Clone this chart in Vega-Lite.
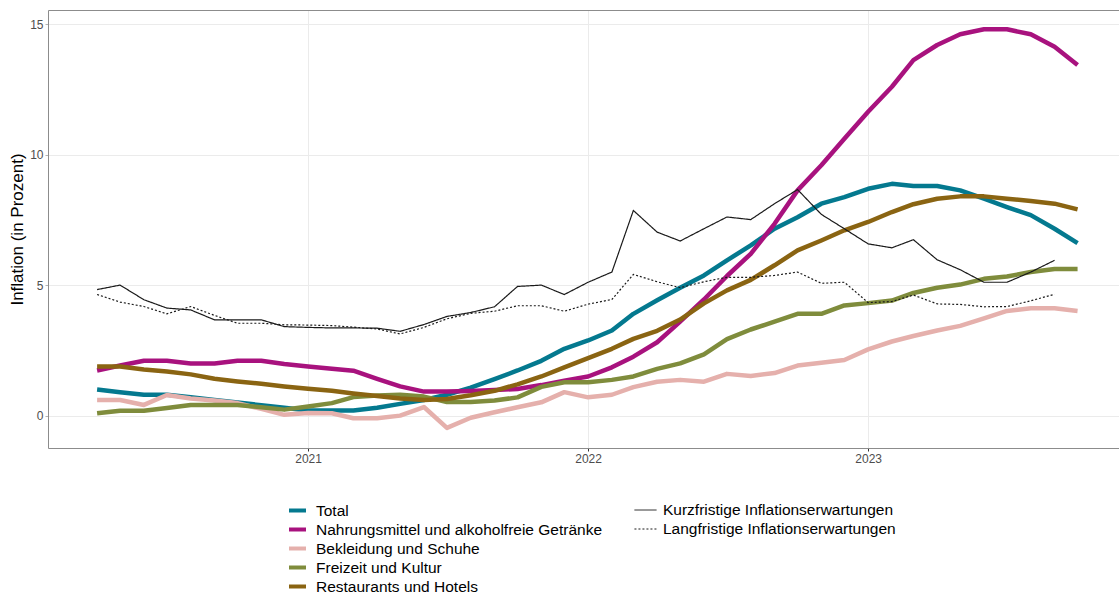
{
"$schema": "https://vega.github.io/schema/vega-lite/v6.json",
"width": 1071,
"height": 438,
"autosize": {"type": "none"},
"padding": {"left": 48, "top": 10, "right": 0, "bottom": 148},
"background": "white",
"config": {"font": "Liberation Sans", "view": {"stroke": null}},
"datasets": {
"cpi": [
{"date":"2020-04-01","series":"Total","value":1.0},{"date":"2020-05-01","series":"Total","value":0.9},{"date":"2020-06-01","series":"Total","value":0.8},{"date":"2020-07-01","series":"Total","value":0.8},{"date":"2020-08-01","series":"Total","value":0.7},{"date":"2020-09-01","series":"Total","value":0.6},{"date":"2020-10-01","series":"Total","value":0.5},{"date":"2020-11-01","series":"Total","value":0.4},{"date":"2020-12-01","series":"Total","value":0.3},{"date":"2021-01-01","series":"Total","value":0.2},{"date":"2021-02-01","series":"Total","value":0.2},{"date":"2021-03-01","series":"Total","value":0.2},{"date":"2021-04-01","series":"Total","value":0.3},{"date":"2021-05-01","series":"Total","value":0.45},{"date":"2021-06-01","series":"Total","value":0.6},{"date":"2021-07-01","series":"Total","value":0.8},{"date":"2021-08-01","series":"Total","value":1.07},{"date":"2021-09-01","series":"Total","value":1.4},{"date":"2021-10-01","series":"Total","value":1.73},{"date":"2021-11-01","series":"Total","value":2.1},{"date":"2021-12-01","series":"Total","value":2.56},{"date":"2022-01-01","series":"Total","value":2.88},{"date":"2022-02-01","series":"Total","value":3.26},{"date":"2022-03-01","series":"Total","value":3.9},{"date":"2022-04-01","series":"Total","value":4.42},{"date":"2022-05-01","series":"Total","value":4.9},{"date":"2022-06-01","series":"Total","value":5.37},{"date":"2022-07-01","series":"Total","value":5.95},{"date":"2022-08-01","series":"Total","value":6.52},{"date":"2022-09-01","series":"Total","value":7.16},{"date":"2022-10-01","series":"Total","value":7.6},{"date":"2022-11-01","series":"Total","value":8.12},{"date":"2022-12-01","series":"Total","value":8.37},{"date":"2023-01-01","series":"Total","value":8.69},{"date":"2023-02-01","series":"Total","value":8.88},{"date":"2023-03-01","series":"Total","value":8.8},{"date":"2023-04-01","series":"Total","value":8.8},{"date":"2023-05-01","series":"Total","value":8.63},{"date":"2023-06-01","series":"Total","value":8.31},{"date":"2023-07-01","series":"Total","value":7.99},{"date":"2023-08-01","series":"Total","value":7.68},{"date":"2023-09-01","series":"Total","value":7.16},{"date":"2023-10-01","series":"Total","value":6.61},
{"date":"2020-04-01","series":"Nahrungsmittel und alkoholfreie Getränke","value":1.73},{"date":"2020-05-01","series":"Nahrungsmittel und alkoholfreie Getränke","value":1.92},{"date":"2020-06-01","series":"Nahrungsmittel und alkoholfreie Getränke","value":2.1},{"date":"2020-07-01","series":"Nahrungsmittel und alkoholfreie Getränke","value":2.1},{"date":"2020-08-01","series":"Nahrungsmittel und alkoholfreie Getränke","value":2.0},{"date":"2020-09-01","series":"Nahrungsmittel und alkoholfreie Getränke","value":2.0},{"date":"2020-10-01","series":"Nahrungsmittel und alkoholfreie Getränke","value":2.1},{"date":"2020-11-01","series":"Nahrungsmittel und alkoholfreie Getränke","value":2.1},{"date":"2020-12-01","series":"Nahrungsmittel und alkoholfreie Getränke","value":1.98},{"date":"2021-01-01","series":"Nahrungsmittel und alkoholfreie Getränke","value":1.88},{"date":"2021-02-01","series":"Nahrungsmittel und alkoholfreie Getränke","value":1.8},{"date":"2021-03-01","series":"Nahrungsmittel und alkoholfreie Getränke","value":1.72},{"date":"2021-04-01","series":"Nahrungsmittel und alkoholfreie Getränke","value":1.41},{"date":"2021-05-01","series":"Nahrungsmittel und alkoholfreie Getränke","value":1.12},{"date":"2021-06-01","series":"Nahrungsmittel und alkoholfreie Getränke","value":0.92},{"date":"2021-07-01","series":"Nahrungsmittel und alkoholfreie Getränke","value":0.92},{"date":"2021-08-01","series":"Nahrungsmittel und alkoholfreie Getränke","value":0.94},{"date":"2021-09-01","series":"Nahrungsmittel und alkoholfreie Getränke","value":0.98},{"date":"2021-10-01","series":"Nahrungsmittel und alkoholfreie Getränke","value":1.02},{"date":"2021-11-01","series":"Nahrungsmittel und alkoholfreie Getränke","value":1.17},{"date":"2021-12-01","series":"Nahrungsmittel und alkoholfreie Getränke","value":1.34},{"date":"2022-01-01","series":"Nahrungsmittel und alkoholfreie Getränke","value":1.5},{"date":"2022-02-01","series":"Nahrungsmittel und alkoholfreie Getränke","value":1.85},{"date":"2022-03-01","series":"Nahrungsmittel und alkoholfreie Getränke","value":2.26},{"date":"2022-04-01","series":"Nahrungsmittel und alkoholfreie Getränke","value":2.81},{"date":"2022-05-01","series":"Nahrungsmittel und alkoholfreie Getränke","value":3.6},{"date":"2022-06-01","series":"Nahrungsmittel und alkoholfreie Getränke","value":4.45},{"date":"2022-07-01","series":"Nahrungsmittel und alkoholfreie Getränke","value":5.35},{"date":"2022-08-01","series":"Nahrungsmittel und alkoholfreie Getränke","value":6.2},{"date":"2022-09-01","series":"Nahrungsmittel und alkoholfreie Getränke","value":7.35},{"date":"2022-10-01","series":"Nahrungsmittel und alkoholfreie Getränke","value":8.63},{"date":"2022-11-01","series":"Nahrungsmittel und alkoholfreie Getränke","value":9.59},{"date":"2022-12-01","series":"Nahrungsmittel und alkoholfreie Getränke","value":10.61},{"date":"2023-01-01","series":"Nahrungsmittel und alkoholfreie Getränke","value":11.64},{"date":"2023-02-01","series":"Nahrungsmittel und alkoholfreie Getränke","value":12.6},{"date":"2023-03-01","series":"Nahrungsmittel und alkoholfreie Getränke","value":13.62},{"date":"2023-04-01","series":"Nahrungsmittel und alkoholfreie Getränke","value":14.2},{"date":"2023-05-01","series":"Nahrungsmittel und alkoholfreie Getränke","value":14.61},{"date":"2023-06-01","series":"Nahrungsmittel und alkoholfreie Getränke","value":14.8},{"date":"2023-07-01","series":"Nahrungsmittel und alkoholfreie Getränke","value":14.8},{"date":"2023-08-01","series":"Nahrungsmittel und alkoholfreie Getränke","value":14.61},{"date":"2023-09-01","series":"Nahrungsmittel und alkoholfreie Getränke","value":14.13},{"date":"2023-10-01","series":"Nahrungsmittel und alkoholfreie Getränke","value":13.43},
{"date":"2020-04-01","series":"Bekleidung und Schuhe","value":0.6},{"date":"2020-05-01","series":"Bekleidung und Schuhe","value":0.6},{"date":"2020-06-01","series":"Bekleidung und Schuhe","value":0.41},{"date":"2020-07-01","series":"Bekleidung und Schuhe","value":0.79},{"date":"2020-08-01","series":"Bekleidung und Schuhe","value":0.66},{"date":"2020-09-01","series":"Bekleidung und Schuhe","value":0.58},{"date":"2020-10-01","series":"Bekleidung und Schuhe","value":0.48},{"date":"2020-11-01","series":"Bekleidung und Schuhe","value":0.26},{"date":"2020-12-01","series":"Bekleidung und Schuhe","value":0.03},{"date":"2021-01-01","series":"Bekleidung und Schuhe","value":0.1},{"date":"2021-02-01","series":"Bekleidung und Schuhe","value":0.09},{"date":"2021-03-01","series":"Bekleidung und Schuhe","value":-0.1},{"date":"2021-04-01","series":"Bekleidung und Schuhe","value":-0.1},{"date":"2021-05-01","series":"Bekleidung und Schuhe","value":0.0},{"date":"2021-06-01","series":"Bekleidung und Schuhe","value":0.33},{"date":"2021-07-01","series":"Bekleidung und Schuhe","value":-0.47},{"date":"2021-08-01","series":"Bekleidung und Schuhe","value":-0.08},{"date":"2021-09-01","series":"Bekleidung und Schuhe","value":0.13},{"date":"2021-10-01","series":"Bekleidung und Schuhe","value":0.32},{"date":"2021-11-01","series":"Bekleidung und Schuhe","value":0.51},{"date":"2021-12-01","series":"Bekleidung und Schuhe","value":0.9},{"date":"2022-01-01","series":"Bekleidung und Schuhe","value":0.7},{"date":"2022-02-01","series":"Bekleidung und Schuhe","value":0.8},{"date":"2022-03-01","series":"Bekleidung und Schuhe","value":1.09},{"date":"2022-04-01","series":"Bekleidung und Schuhe","value":1.3},{"date":"2022-05-01","series":"Bekleidung und Schuhe","value":1.37},{"date":"2022-06-01","series":"Bekleidung und Schuhe","value":1.3},{"date":"2022-07-01","series":"Bekleidung und Schuhe","value":1.6},{"date":"2022-08-01","series":"Bekleidung und Schuhe","value":1.52},{"date":"2022-09-01","series":"Bekleidung und Schuhe","value":1.63},{"date":"2022-10-01","series":"Bekleidung und Schuhe","value":1.92},{"date":"2022-11-01","series":"Bekleidung und Schuhe","value":2.03},{"date":"2022-12-01","series":"Bekleidung und Schuhe","value":2.13},{"date":"2023-01-01","series":"Bekleidung und Schuhe","value":2.54},{"date":"2023-02-01","series":"Bekleidung und Schuhe","value":2.84},{"date":"2023-03-01","series":"Bekleidung und Schuhe","value":3.05},{"date":"2023-04-01","series":"Bekleidung und Schuhe","value":3.26},{"date":"2023-05-01","series":"Bekleidung und Schuhe","value":3.44},{"date":"2023-06-01","series":"Bekleidung und Schuhe","value":3.73},{"date":"2023-07-01","series":"Bekleidung und Schuhe","value":4.01},{"date":"2023-08-01","series":"Bekleidung und Schuhe","value":4.11},{"date":"2023-09-01","series":"Bekleidung und Schuhe","value":4.11},{"date":"2023-10-01","series":"Bekleidung und Schuhe","value":4.01},
{"date":"2020-04-01","series":"Freizeit und Kultur","value":0.09},{"date":"2020-05-01","series":"Freizeit und Kultur","value":0.19},{"date":"2020-06-01","series":"Freizeit und Kultur","value":0.19},{"date":"2020-07-01","series":"Freizeit und Kultur","value":0.29},{"date":"2020-08-01","series":"Freizeit und Kultur","value":0.41},{"date":"2020-09-01","series":"Freizeit und Kultur","value":0.41},{"date":"2020-10-01","series":"Freizeit und Kultur","value":0.41},{"date":"2020-11-01","series":"Freizeit und Kultur","value":0.32},{"date":"2020-12-01","series":"Freizeit und Kultur","value":0.23},{"date":"2021-01-01","series":"Freizeit und Kultur","value":0.35},{"date":"2021-02-01","series":"Freizeit und Kultur","value":0.48},{"date":"2021-03-01","series":"Freizeit und Kultur","value":0.71},{"date":"2021-04-01","series":"Freizeit und Kultur","value":0.77},{"date":"2021-05-01","series":"Freizeit und Kultur","value":0.8},{"date":"2021-06-01","series":"Freizeit und Kultur","value":0.73},{"date":"2021-07-01","series":"Freizeit und Kultur","value":0.52},{"date":"2021-08-01","series":"Freizeit und Kultur","value":0.52},{"date":"2021-09-01","series":"Freizeit und Kultur","value":0.58},{"date":"2021-10-01","series":"Freizeit und Kultur","value":0.7},{"date":"2021-11-01","series":"Freizeit und Kultur","value":1.1},{"date":"2021-12-01","series":"Freizeit und Kultur","value":1.28},{"date":"2022-01-01","series":"Freizeit und Kultur","value":1.28},{"date":"2022-02-01","series":"Freizeit und Kultur","value":1.37},{"date":"2022-03-01","series":"Freizeit und Kultur","value":1.5},{"date":"2022-04-01","series":"Freizeit und Kultur","value":1.79},{"date":"2022-05-01","series":"Freizeit und Kultur","value":2.0},{"date":"2022-06-01","series":"Freizeit und Kultur","value":2.35},{"date":"2022-07-01","series":"Freizeit und Kultur","value":2.93},{"date":"2022-08-01","series":"Freizeit und Kultur","value":3.3},{"date":"2022-09-01","series":"Freizeit und Kultur","value":3.6},{"date":"2022-10-01","series":"Freizeit und Kultur","value":3.9},{"date":"2022-11-01","series":"Freizeit und Kultur","value":3.9},{"date":"2022-12-01","series":"Freizeit und Kultur","value":4.22},{"date":"2023-01-01","series":"Freizeit und Kultur","value":4.31},{"date":"2023-02-01","series":"Freizeit und Kultur","value":4.41},{"date":"2023-03-01","series":"Freizeit und Kultur","value":4.7},{"date":"2023-04-01","series":"Freizeit und Kultur","value":4.9},{"date":"2023-05-01","series":"Freizeit und Kultur","value":5.02},{"date":"2023-06-01","series":"Freizeit und Kultur","value":5.24},{"date":"2023-07-01","series":"Freizeit und Kultur","value":5.33},{"date":"2023-08-01","series":"Freizeit und Kultur","value":5.5},{"date":"2023-09-01","series":"Freizeit und Kultur","value":5.62},{"date":"2023-10-01","series":"Freizeit und Kultur","value":5.62},
{"date":"2020-04-01","series":"Restaurants und Hotels","value":1.88},{"date":"2020-05-01","series":"Restaurants und Hotels","value":1.88},{"date":"2020-06-01","series":"Restaurants und Hotels","value":1.77},{"date":"2020-07-01","series":"Restaurants und Hotels","value":1.69},{"date":"2020-08-01","series":"Restaurants und Hotels","value":1.58},{"date":"2020-09-01","series":"Restaurants und Hotels","value":1.41},{"date":"2020-10-01","series":"Restaurants und Hotels","value":1.31},{"date":"2020-11-01","series":"Restaurants und Hotels","value":1.22},{"date":"2020-12-01","series":"Restaurants und Hotels","value":1.12},{"date":"2021-01-01","series":"Restaurants und Hotels","value":1.03},{"date":"2021-02-01","series":"Restaurants und Hotels","value":0.95},{"date":"2021-03-01","series":"Restaurants und Hotels","value":0.85},{"date":"2021-04-01","series":"Restaurants und Hotels","value":0.75},{"date":"2021-05-01","series":"Restaurants und Hotels","value":0.66},{"date":"2021-06-01","series":"Restaurants und Hotels","value":0.6},{"date":"2021-07-01","series":"Restaurants und Hotels","value":0.64},{"date":"2021-08-01","series":"Restaurants und Hotels","value":0.78},{"date":"2021-09-01","series":"Restaurants und Hotels","value":0.95},{"date":"2021-10-01","series":"Restaurants und Hotels","value":1.2},{"date":"2021-11-01","series":"Restaurants und Hotels","value":1.5},{"date":"2021-12-01","series":"Restaurants und Hotels","value":1.85},{"date":"2022-01-01","series":"Restaurants und Hotels","value":2.2},{"date":"2022-02-01","series":"Restaurants und Hotels","value":2.56},{"date":"2022-03-01","series":"Restaurants und Hotels","value":2.94},{"date":"2022-04-01","series":"Restaurants und Hotels","value":3.25},{"date":"2022-05-01","series":"Restaurants und Hotels","value":3.68},{"date":"2022-06-01","series":"Restaurants und Hotels","value":4.3},{"date":"2022-07-01","series":"Restaurants und Hotels","value":4.8},{"date":"2022-08-01","series":"Restaurants und Hotels","value":5.2},{"date":"2022-09-01","series":"Restaurants und Hotels","value":5.76},{"date":"2022-10-01","series":"Restaurants und Hotels","value":6.33},{"date":"2022-11-01","series":"Restaurants und Hotels","value":6.71},{"date":"2022-12-01","series":"Restaurants und Hotels","value":7.1},{"date":"2023-01-01","series":"Restaurants und Hotels","value":7.42},{"date":"2023-02-01","series":"Restaurants und Hotels","value":7.8},{"date":"2023-03-01","series":"Restaurants und Hotels","value":8.1},{"date":"2023-04-01","series":"Restaurants und Hotels","value":8.31},{"date":"2023-05-01","series":"Restaurants und Hotels","value":8.4},{"date":"2023-06-01","series":"Restaurants und Hotels","value":8.4},{"date":"2023-07-01","series":"Restaurants und Hotels","value":8.31},{"date":"2023-08-01","series":"Restaurants und Hotels","value":8.22},{"date":"2023-09-01","series":"Restaurants und Hotels","value":8.12},{"date":"2023-10-01","series":"Restaurants und Hotels","value":7.9}
],
"exp": [
{"date":"2020-04-01","kind":"Kurzfristige Inflationserwartungen","value":4.83},{"date":"2020-05-01","kind":"Kurzfristige Inflationserwartungen","value":5.0},{"date":"2020-06-01","kind":"Kurzfristige Inflationserwartungen","value":4.44},{"date":"2020-07-01","kind":"Kurzfristige Inflationserwartungen","value":4.12},{"date":"2020-08-01","kind":"Kurzfristige Inflationserwartungen","value":4.05},{"date":"2020-09-01","kind":"Kurzfristige Inflationserwartungen","value":3.67},{"date":"2020-10-01","kind":"Kurzfristige Inflationserwartungen","value":3.67},{"date":"2020-11-01","kind":"Kurzfristige Inflationserwartungen","value":3.67},{"date":"2020-12-01","kind":"Kurzfristige Inflationserwartungen","value":3.41},{"date":"2021-01-01","kind":"Kurzfristige Inflationserwartungen","value":3.38},{"date":"2021-02-01","kind":"Kurzfristige Inflationserwartungen","value":3.36},{"date":"2021-03-01","kind":"Kurzfristige Inflationserwartungen","value":3.36},{"date":"2021-04-01","kind":"Kurzfristige Inflationserwartungen","value":3.35},{"date":"2021-05-01","kind":"Kurzfristige Inflationserwartungen","value":3.23},{"date":"2021-06-01","kind":"Kurzfristige Inflationserwartungen","value":3.49},{"date":"2021-07-01","kind":"Kurzfristige Inflationserwartungen","value":3.8},{"date":"2021-08-01","kind":"Kurzfristige Inflationserwartungen","value":3.95},{"date":"2021-09-01","kind":"Kurzfristige Inflationserwartungen","value":4.17},{"date":"2021-10-01","kind":"Kurzfristige Inflationserwartungen","value":4.95},{"date":"2021-11-01","kind":"Kurzfristige Inflationserwartungen","value":5.0},{"date":"2021-12-01","kind":"Kurzfristige Inflationserwartungen","value":4.64},{"date":"2022-01-01","kind":"Kurzfristige Inflationserwartungen","value":5.11},{"date":"2022-02-01","kind":"Kurzfristige Inflationserwartungen","value":5.5},{"date":"2022-03-01","kind":"Kurzfristige Inflationserwartungen","value":7.86},{"date":"2022-04-01","kind":"Kurzfristige Inflationserwartungen","value":7.03},{"date":"2022-05-01","kind":"Kurzfristige Inflationserwartungen","value":6.69},{"date":"2022-06-01","kind":"Kurzfristige Inflationserwartungen","value":7.16},{"date":"2022-07-01","kind":"Kurzfristige Inflationserwartungen","value":7.61},{"date":"2022-08-01","kind":"Kurzfristige Inflationserwartungen","value":7.51},{"date":"2022-09-01","kind":"Kurzfristige Inflationserwartungen","value":8.12},{"date":"2022-10-01","kind":"Kurzfristige Inflationserwartungen","value":8.66},{"date":"2022-11-01","kind":"Kurzfristige Inflationserwartungen","value":7.71},{"date":"2022-12-01","kind":"Kurzfristige Inflationserwartungen","value":7.16},{"date":"2023-01-01","kind":"Kurzfristige Inflationserwartungen","value":6.58},{"date":"2023-02-01","kind":"Kurzfristige Inflationserwartungen","value":6.43},{"date":"2023-03-01","kind":"Kurzfristige Inflationserwartungen","value":6.74},{"date":"2023-04-01","kind":"Kurzfristige Inflationserwartungen","value":5.97},{"date":"2023-05-01","kind":"Kurzfristige Inflationserwartungen","value":5.59},{"date":"2023-06-01","kind":"Kurzfristige Inflationserwartungen","value":5.11},{"date":"2023-07-01","kind":"Kurzfristige Inflationserwartungen","value":5.11},{"date":"2023-08-01","kind":"Kurzfristige Inflationserwartungen","value":5.5},{"date":"2023-09-01","kind":"Kurzfristige Inflationserwartungen","value":5.95},
{"date":"2020-04-01","kind":"Langfristige Inflationserwartungen","value":4.64},{"date":"2020-05-01","kind":"Langfristige Inflationserwartungen","value":4.35},{"date":"2020-06-01","kind":"Langfristige Inflationserwartungen","value":4.18},{"date":"2020-07-01","kind":"Langfristige Inflationserwartungen","value":3.9},{"date":"2020-08-01","kind":"Langfristige Inflationserwartungen","value":4.18},{"date":"2020-09-01","kind":"Langfristige Inflationserwartungen","value":3.84},{"date":"2020-10-01","kind":"Langfristige Inflationserwartungen","value":3.54},{"date":"2020-11-01","kind":"Langfristige Inflationserwartungen","value":3.54},{"date":"2020-12-01","kind":"Langfristige Inflationserwartungen","value":3.48},{"date":"2021-01-01","kind":"Langfristige Inflationserwartungen","value":3.47},{"date":"2021-02-01","kind":"Langfristige Inflationserwartungen","value":3.45},{"date":"2021-03-01","kind":"Langfristige Inflationserwartungen","value":3.39},{"date":"2021-04-01","kind":"Langfristige Inflationserwartungen","value":3.32},{"date":"2021-05-01","kind":"Langfristige Inflationserwartungen","value":3.13},{"date":"2021-06-01","kind":"Langfristige Inflationserwartungen","value":3.38},{"date":"2021-07-01","kind":"Langfristige Inflationserwartungen","value":3.71},{"date":"2021-08-01","kind":"Langfristige Inflationserwartungen","value":3.92},{"date":"2021-09-01","kind":"Langfristige Inflationserwartungen","value":4.0},{"date":"2021-10-01","kind":"Langfristige Inflationserwartungen","value":4.21},{"date":"2021-11-01","kind":"Langfristige Inflationserwartungen","value":4.21},{"date":"2021-12-01","kind":"Langfristige Inflationserwartungen","value":4.0},{"date":"2022-01-01","kind":"Langfristige Inflationserwartungen","value":4.27},{"date":"2022-02-01","kind":"Langfristige Inflationserwartungen","value":4.45},{"date":"2022-03-01","kind":"Langfristige Inflationserwartungen","value":5.41},{"date":"2022-04-01","kind":"Langfristige Inflationserwartungen","value":5.13},{"date":"2022-05-01","kind":"Langfristige Inflationserwartungen","value":4.9},{"date":"2022-06-01","kind":"Langfristige Inflationserwartungen","value":5.13},{"date":"2022-07-01","kind":"Langfristige Inflationserwartungen","value":5.3},{"date":"2022-08-01","kind":"Langfristige Inflationserwartungen","value":5.3},{"date":"2022-09-01","kind":"Langfristige Inflationserwartungen","value":5.37},{"date":"2022-10-01","kind":"Langfristige Inflationserwartungen","value":5.5},{"date":"2022-11-01","kind":"Langfristige Inflationserwartungen","value":5.07},{"date":"2022-12-01","kind":"Langfristige Inflationserwartungen","value":5.11},{"date":"2023-01-01","kind":"Langfristige Inflationserwartungen","value":4.33},{"date":"2023-02-01","kind":"Langfristige Inflationserwartungen","value":4.37},{"date":"2023-03-01","kind":"Langfristige Inflationserwartungen","value":4.62},{"date":"2023-04-01","kind":"Langfristige Inflationserwartungen","value":4.28},{"date":"2023-05-01","kind":"Langfristige Inflationserwartungen","value":4.26},{"date":"2023-06-01","kind":"Langfristige Inflationserwartungen","value":4.17},{"date":"2023-07-01","kind":"Langfristige Inflationserwartungen","value":4.18},{"date":"2023-08-01","kind":"Langfristige Inflationserwartungen","value":4.4},{"date":"2023-09-01","kind":"Langfristige Inflationserwartungen","value":4.65}
]
},
"resolve": {"axis": {"x": "independent"}},
"layer": [
{
"data": {"name": "cpi"},
"mark": {"type": "line", "strokeWidth": 4.5, "strokeCap": "butt", "strokeJoin": "round"},
"encoding": {
"x": {"field": "date", "type": "temporal",
"scale": {"type": "utc", "domain": [{"year": 2020, "month": 1, "date": 28, "utc": true}, {"year": 2023, "month": 11, "date": 24, "utc": true}]},
"axis": {"orient": "bottom", "title": null, "values": [{"year": 2021, "month": 1, "date": 1, "utc": true}, {"year": 2022, "month": 1, "date": 1, "utc": true}, {"year": 2023, "month": 1, "date": 1, "utc": true}], "format": "%Y", "labelFontSize": 12, "labelColor": "#4d4d4d", "tickColor": "#333333", "tickSize": 3, "labelPadding": 2, "domainColor": "#8c8c8c", "gridColor": "#ebebeb", "labelFlush": false}},
"y": {"field": "value", "type": "quantitative",
"scale": {"domain": [-1.24, 15.54], "nice": false, "zero": false},
"axis": {"orient": "left", "values": [0, 5, 10, 15], "title": "Inflation (in Prozent)", "titleFontSize": 17, "titleFontWeight": "normal", "titleColor": "#000000", "titlePadding": 3, "labelFontSize": 12, "labelColor": "#4d4d4d", "tickColor": "#b3b3b3", "tickSize": 3, "labelPadding": 2, "domainColor": "#8c8c8c", "gridColor": "#ebebeb"}},
"color": {"field": "series", "type": "nominal",
"scale": {"domain": ["Total", "Nahrungsmittel und alkoholfreie Getränke", "Bekleidung und Schuhe", "Freizeit und Kultur", "Restaurants und Hotels"], "range": ["#04798f", "#a8127e", "#e5b0ac", "#7f8c3c", "#8a6412"]},
"legend": {"title": null, "orient": "none", "legendX": 239, "legendY": 490, "direction": "vertical", "symbolType": "stroke", "symbolSize": 289, "symbolStrokeWidth": 4, "labelFontSize": 15.5, "labelColor": "#000000", "labelOffset": 8, "rowPadding": 0, "padding": 0, "labelLimit": 500}}
}
},
{
"data": {"name": "exp"},
"mark": {"type": "line", "strokeWidth": 1.2, "color": "#1a1a1a", "strokeCap": "butt"},
"encoding": {
"x": {"field": "date", "type": "temporal", "axis": {"orient": "top", "labels": false, "ticks": false, "grid": false, "title": null, "domainColor": "#8c8c8c"}},
"y": {"field": "value", "type": "quantitative"},
"strokeDash": {"field": "kind", "type": "nominal",
"scale": {"domain": ["Kurzfristige Inflationserwartungen", "Langfristige Inflationserwartungen"], "range": [[1, 0], [2, 2]]},
"legend": {"title": null, "orient": "none", "legendX": 588.5, "legendY": 491, "direction": "vertical", "symbolType": "M-1.3,0H1.3", "symbolSize": 289, "symbolStrokeWidth": 1, "symbolStrokeColor": "#1a1a1a", "labelFontSize": 15.5, "labelColor": "#000000", "labelOffset": 8.5, "rowPadding": 1, "padding": 0, "labelLimit": 500}}
}
}
]
}
